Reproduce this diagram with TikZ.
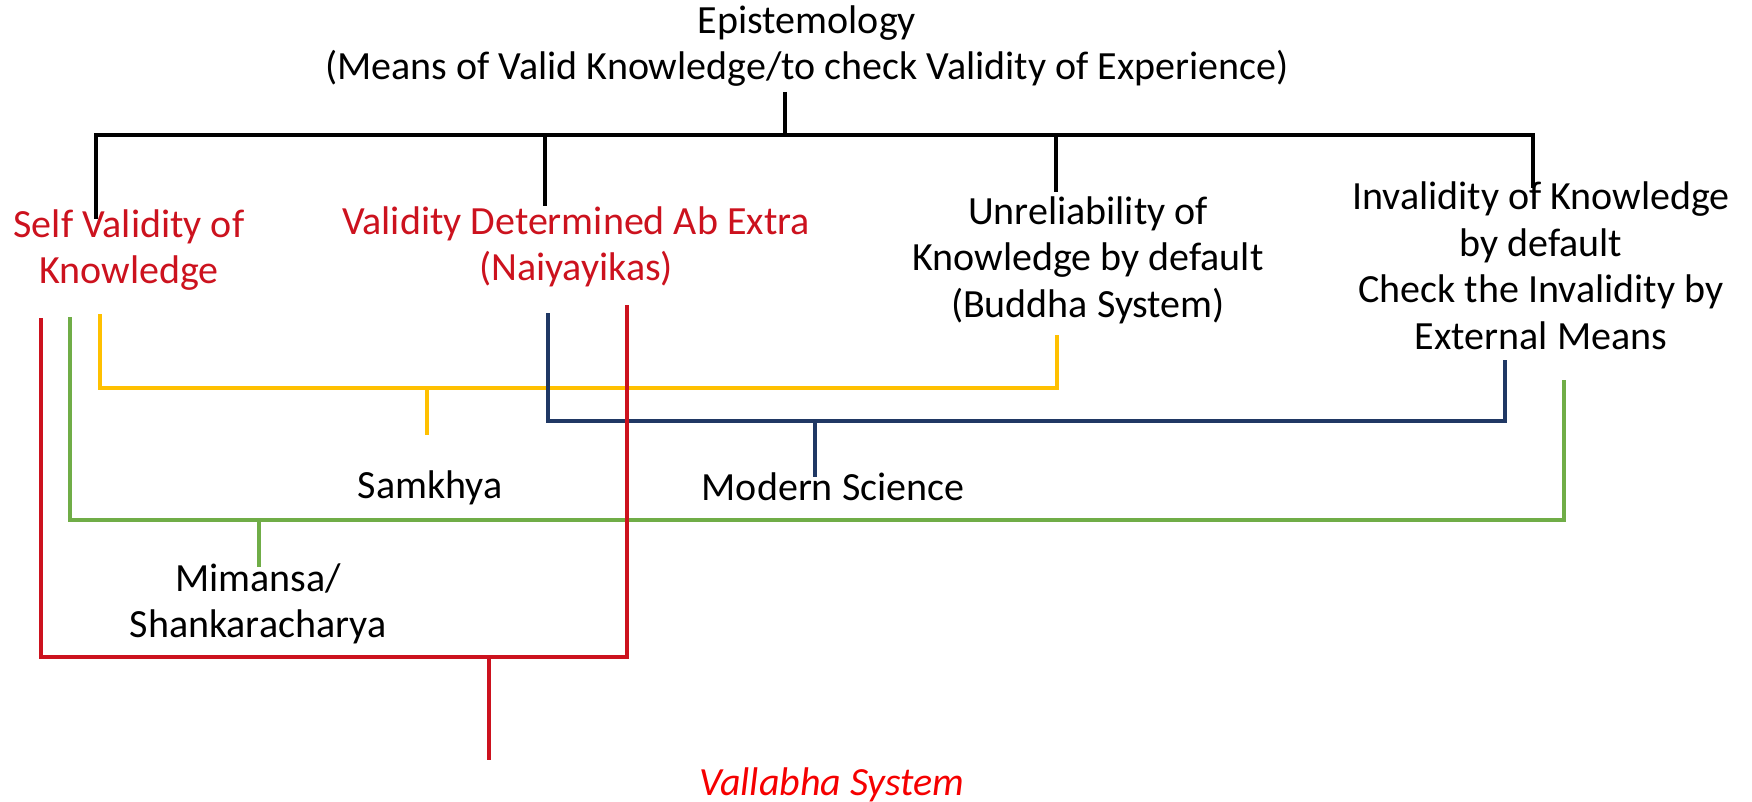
\documentclass[tikz,border=0pt]{standalone}
\usepackage{fontspec}
\setmainfont{Carlito}
\definecolor{darkred}{RGB}{204,18,30}
\definecolor{brightred}{RGB}{245,0,0}
\definecolor{myyellow}{RGB}{255,192,0}
\definecolor{mygreen}{RGB}{112,173,71}
\definecolor{mynavy}{RGB}{32,56,100}
\tikzset{
  lbl/.style={inner sep=0pt, align=center, font=\fontsize{40}{46.5}\selectfont},
  blackline/.style={draw=black, line width=3.2pt},
  redline/.style={draw=darkred, line width=3.2pt},
  greenline/.style={draw=mygreen, line width=3.2pt},
  yellowline/.style={draw=myyellow, line width=3.2pt},
  blueline/.style={draw=mynavy, line width=3.2pt}
}
\begin{document}
\begin{tikzpicture}[x=1pt,y=-1pt]
\useasboundingbox (0,0) rectangle (1752,802);
% text nodes
\node[lbl] (epi) at (807,46) {Epistemology\\(Means of Valid Knowledge/to check Validity of Experience)};
\node[lbl, text=darkred] (self) at (129,250) {Self Validity of\\Knowledge};
\node[lbl, text=darkred] (nai) at (576,247) {Validity Determined Ab Extra\\(Naiyayikas)};
\node[lbl] (bud) at (1088,260) {Unreliability of\\Knowledge by default\\(Buddha System)};
\node[lbl] (inv) at (1541,266) {Invalidity of Knowledge\\by default\\Check the Invalidity by\\External Means};
\node[lbl] (sam) at (430,488) {Samkhya};
\node[lbl] (mod) at (833,487) {Modern Science};
\node[lbl] (mim) at (258,604) {Mimansa/\hspace{38pt}\\Shankaracharya};
\node[lbl, text=brightred, font=\fontsize{40}{46.5}\selectfont\itshape] (val) at (832,785) {Vallabha System};
% black tree
\coordinate (bTop) at (785,92);
\coordinate (bMid) at (785,135);
\coordinate (bL) at (96,135);
\coordinate (bR) at (1533,135);
\coordinate (bSelf) at (96,219);
\coordinate (bNaiT) at (545,135);
\coordinate (bNai) at (545,206);
\coordinate (bBudT) at (1056,135);
\coordinate (bBud) at (1056,192);
\coordinate (bInv) at (1533,188);
\draw[blackline] (bTop) -- (bMid);
\draw[blackline] (bSelf) -- (bL) -- (bR) -- (bInv);
\draw[blackline] (bNaiT) -- (bNai);
\draw[blackline] (bBudT) -- (bBud);
% yellow: Samkhya
\coordinate (y1) at (100,314);
\coordinate (y2) at (1057,335);
\coordinate (yM) at (427,388);
\coordinate (yS) at (427,435);
\draw[yellowline] (y1) |- (yM) -| (y2);
\draw[yellowline] (yM) -- (yS);
% blue: Modern Science
\coordinate (n1) at (548,313);
\coordinate (n2) at (1505,360);
\coordinate (nM) at (815,421);
\coordinate (nS) at (815,477);
\draw[blueline] (n1) |- (nM) -| (n2);
\draw[blueline] (nM) -- (nS);
% green: Mimansa
\coordinate (g1) at (70,317);
\coordinate (g2) at (1564,380);
\coordinate (gM) at (259,520);
\coordinate (gS) at (259,567);
\draw[greenline] (g1) |- (gM) -| (g2);
\draw[greenline] (gM) -- (gS);
% red: Vallabha
\coordinate (r1) at (41,318);
\coordinate (r2) at (627,305);
\coordinate (rM) at (489,657);
\coordinate (rS) at (489,760);
\draw[redline] (r1) |- (rM) -| (r2);
\draw[redline] (rM) -- (rS);
\end{tikzpicture}
\end{document}
